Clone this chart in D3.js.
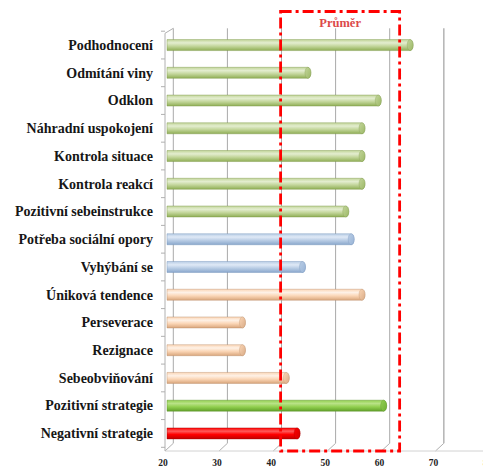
<!DOCTYPE html>
<html>
<head>
<meta charset="utf-8">
<script src="https://cdn.jsdelivr.net/npm/d3@7/dist/d3.min.js"></script>
<style>
  html, body { margin: 0; padding: 0; background: #fff; }
  svg { display: block; }
</style>
</head>
<body>
<svg id="chart" width="483" height="467"></svg>
<script>
// Coping strategies — mean scores
const categories = [
  "Podhodnocení", "Odmítání viny", "Odklon", "Náhradní uspokojení",
  "Kontrola situace", "Kontrola reakcí", "Pozitivní sebeinstrukce",
  "Potřeba sociální opory", "Vyhýbání se", "Úniková tendence",
  "Perseverace", "Rezignace", "Sebeobviňování",
  "Pozitivní strategie", "Negativní strategie"
];
const values = [65.5, 46.6, 59.6, 56.6, 56.6, 56.6, 53.6, 54.6, 45.6, 56.6, 34.5, 34.5, 42.6, 60.6, 44.6];
const groups = ["green", "green", "green", "green", "green", "green", "green",
                "blue", "blue", "peach", "peach", "peach", "peach", "strongGreen", "red"];
const tickValues = [20, 30, 40, 50, 60, 70, 80];
const averageRange = [41.0, 63.0];
const averageLabel = "Průměr";

const palette = {
  green:       { top: "#e3edcf", mid: "#c3d69b", bot: "#8fae55", cap: "#9cb866", edge: "#7a9446" },
  blue:        { top: "#dfe9f6", mid: "#b9cde5", bot: "#8aa7cc", cap: "#98b3d6", edge: "#7190ba" },
  peach:       { top: "#fef1e6", mid: "#fbd6b6", bot: "#d9a67c", cap: "#d9ab86", edge: "#b98c68" },
  strongGreen: { top: "#b8e286", mid: "#92d050", bot: "#62a12a", cap: "#6fae34", edge: "#5a8f26" },
  red:         { top: "#ff5a5a", mid: "#ff0000", bot: "#c00000", cap: "#d00000", edge: "#a00000" }
};

const svg = d3.select("#chart");
const defs = svg.append("defs");

// 3D geometry: front plane and depth offset
const depth = { dx: 8.3, dyTop: -5, dyBottom: 7.7 };
const x = d3.scaleLinear().domain([20, 80]).range([165, 165 + 6 * 54.1]);
const y = d3.scaleBand().domain(categories).range([31.2, 447.3]).padding(0);
const barOffset = 2;       // bars sit slightly behind the front plane
const barH = 11;
const frontTop = 33.3, frontBottom = 451;
const backTop = frontTop + depth.dyTop, backBottom = frontBottom - depth.dyBottom;

// gradients for the cylinders
Object.entries(palette).forEach(([key, c]) => {
  const g = defs.append("linearGradient").attr("id", "grad-" + key)
    .attr("x1", 0).attr("y1", 0).attr("x2", 0).attr("y2", 1);
  g.append("stop").attr("offset", "0%").attr("stop-color", c.mid);
  g.append("stop").attr("offset", "30%").attr("stop-color", c.top);
  g.append("stop").attr("offset", "60%").attr("stop-color", c.mid);
  g.append("stop").attr("offset", "100%").attr("stop-color", c.bot);
  const gc = defs.append("linearGradient").attr("id", "cap-" + key)
    .attr("x1", 0).attr("y1", 0).attr("x2", 1).attr("y2", 1);
  gc.append("stop").attr("offset", "0%").attr("stop-color", c.mid);
  gc.append("stop").attr("offset", "100%").attr("stop-color", c.cap);
});

// back wall gridlines with floor diagonals
const grid = svg.append("g");
tickValues.forEach(v => {
  const xb = x(v) + depth.dx;
  grid.append("line")
    .attr("x1", xb).attr("x2", xb).attr("y1", backTop).attr("y2", backBottom)
    .attr("stroke", v === 70 ? "#b8b8b8" : "#a9a9a9")
    .attr("stroke-width", v === 70 ? 1.6 : 1);
  grid.append("line")
    .attr("x1", xb).attr("y1", backBottom).attr("x2", x(v)).attr("y2", frontBottom)
    .attr("stroke", "#b0b0b0").attr("stroke-width", 1);
});
// floor front edge
grid.append("line")
  .attr("x1", x(20)).attr("x2", 483).attr("y1", frontBottom).attr("y2", frontBottom)
  .attr("stroke", "#d2d2d2").attr("stroke-width", 1);

// left wall edge
grid.append("line")
  .attr("x1", x(20)).attr("x2", x(20)).attr("y1", frontTop).attr("y2", frontBottom)
  .attr("stroke", "#b0b0b0").attr("stroke-width", 1);
grid.append("line")
  .attr("x1", x(20)).attr("y1", frontTop).attr("x2", x(20) + depth.dx).attr("y2", backTop)
  .attr("stroke", "#b0b0b0").attr("stroke-width", 1);
// category tick marks on the left edge
const bounds = categories.map(c => y(c)).concat([y.range()[1]]);
grid.selectAll(".ctick").data(bounds).join("line")
  .attr("x1", x(20) - 4).attr("x2", x(20)).attr("y1", d => d).attr("y2", d => d)
  .attr("stroke", "#b0b0b0").attr("stroke-width", 1);

// category labels
svg.append("g").selectAll("text").data(categories).join("text")
  .attr("x", 153)
  .attr("y", d => y(d) + y.bandwidth() / 2 + 4.8)
  .attr("text-anchor", "end")
  .attr("font-family", "'Liberation Serif', 'Times New Roman', serif")
  .attr("font-weight", "bold")
  .attr("font-size", "14px")
  .attr("fill", "#161616")
  .text(d => d);

// value axis labels
svg.append("g").selectAll("text").data(tickValues).join("text")
  .attr("x", d => x(d) - 2)
  .attr("y", 466)
  .attr("text-anchor", "middle")
  .attr("font-family", "'Liberation Serif', serif")
  .attr("font-weight", "bold")
  .attr("font-size", "9.5px")
  .attr("fill", "#222")
  .text(d => d);

// cylinders
const rx = 3;
const bars = svg.append("g").selectAll("g").data(categories).join("g");
bars.each(function (c, i) {
  const g = d3.select(this);
  const key = groups[i];
  const col = palette[key];
  const x0 = x(20) + barOffset;
  const x1 = x(values[i]) + barOffset - rx;
  const cy = y(c) + y.bandwidth() / 2;
  const top = cy - barH / 2;
  g.append("path")
    .attr("d", `M${x0},${top} L${x1},${top} A${rx},${barH / 2} 0 0 1 ${x1},${top + barH} L${x0},${top + barH} Z`)
    .attr("fill", `url(#grad-${key})`)
    .attr("stroke", col.edge).attr("stroke-width", 0.6).attr("stroke-opacity", 0.7);
  g.append("ellipse")
    .attr("cx", x1).attr("cy", cy).attr("rx", rx).attr("ry", barH / 2)
    .attr("fill", `url(#cap-${key})`)
    .attr("stroke", col.edge).attr("stroke-width", 0.5).attr("stroke-opacity", 0.6);
});

// dash-dot frame around the average band
const frame = svg.append("g");
frame.append("rect")
  .attr("x", x(averageRange[0]) + barOffset)
  .attr("y", 11.5)
  .attr("width", x(averageRange[1]) - x(averageRange[0]))
  .attr("height", frontBottom - 11.5)
  .attr("fill", "none")
  .attr("stroke", "#ff0000")
  .attr("stroke-width", 2.8)
  .attr("stroke-dasharray", "11,4,3,4");
frame.append("text")
  .attr("x", (x(averageRange[0]) + x(averageRange[1])) / 2 + barOffset)
  .attr("y", 26.5)
  .attr("text-anchor", "middle")
  .attr("font-family", "'Liberation Serif', serif")
  .attr("font-weight", "bold")
  .attr("font-size", "12.5px")
  .attr("fill", "#dc4a4a")
  .text(averageLabel);
</script>
</body>
</html>
